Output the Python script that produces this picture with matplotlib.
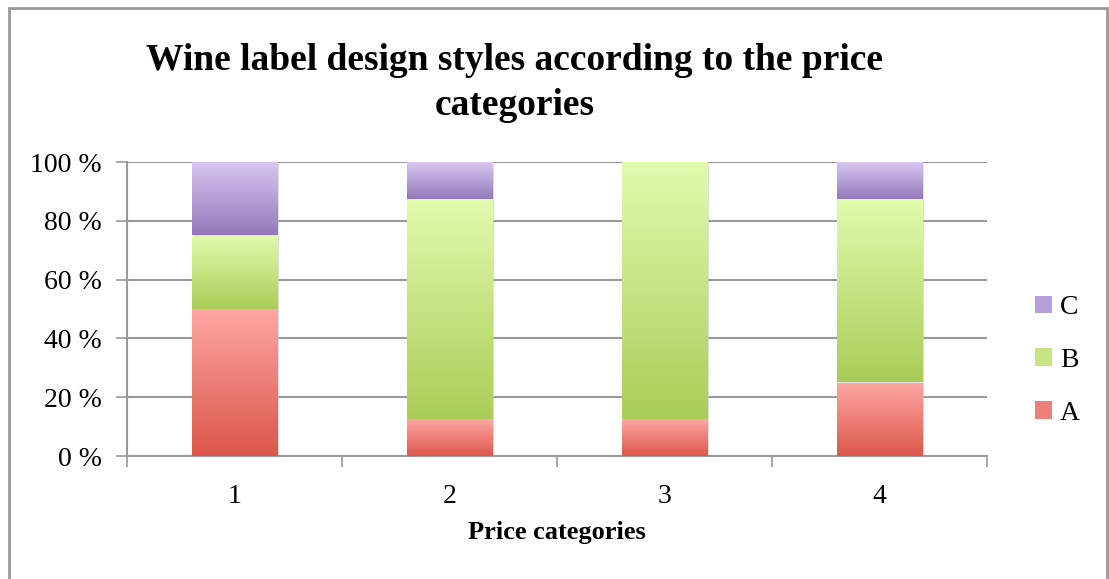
import numpy as np
import matplotlib.pyplot as plt
from matplotlib.colors import LinearSegmentedColormap
from matplotlib.patches import Rectangle, Patch

categories = ['1', '2', '3', '4']
series_a = [50.0, 12.5, 12.5, 25.0]
series_b = [25.0, 75.0, 87.5, 62.5]
series_c = [25.0, 12.5, 0.0, 12.5]
y_ticks = [0, 20, 40, 60, 80, 100]
y_tick_labels = ['0 %', '20 %', '40 %', '60 %', '80 %', '100 %']

# (top colour, bottom colour) for each series gradient
grads = {
    'A': ('#fda7a3', '#dc574b'),
    'B': ('#e2fbad', '#a9cd58'),
    'C': ('#d8c8f2', '#9378ba'),
}

plt.rcParams['font.family'] = ['Liberation Serif', 'DejaVu Serif']

fig = plt.figure(figsize=(11.09, 5.79), dpi=100)
fig.patches.append(Rectangle((9 / 1109, -0.1), 1098 / 1109, 1.1 - 8 / 579,
                             transform=fig.transFigure, fill=False,
                             edgecolor='#9a9a9a', linewidth=2.0))
ax = fig.add_axes([127 / 1109, 1 - 456 / 579, 860 / 1109, 294 / 579])

x = np.arange(1, len(categories) + 1)
width = 0.40
bottom = np.zeros(len(categories))
for name, vals in [('A', series_a), ('B', series_b), ('C', series_c)]:
    bars = ax.bar(x, vals, width, bottom=bottom, color='none', linewidth=0, zorder=3)
    cmap = LinearSegmentedColormap.from_list(name, [grads[name][1], grads[name][0]])
    for b in bars:
        if b.get_height() <= 0:
            continue
        x0, y0 = b.get_x(), b.get_y()
        # soft shadow
        sh = Rectangle((x0 + 0.008, y0 - 0.8), b.get_width(), b.get_height(),
                       facecolor='#c8c8c8', edgecolor='none', zorder=2, alpha=0.6)
        ax.add_patch(sh)
        grad = np.linspace(0, 1, 256).reshape(-1, 1)
        im = ax.imshow(grad, cmap=cmap, origin='lower', aspect='auto',
                       extent=(x0, x0 + b.get_width(), y0, y0 + b.get_height()),
                       zorder=3)
        im.set_clip_path(b)
    bottom += np.array(vals)

ax.set_xlim(0.5, 4.5)
ax.set_ylim(0, 100)
ax.set_yticks(y_ticks)
ax.set_yticklabels(y_tick_labels, fontsize=20)
ax.set_xticks(x)
ax.set_xticklabels(categories, fontsize=20)
ax.set_xticks(np.arange(0.5, 4.6, 1.0), minor=True)
ax.tick_params(axis='x', which='major', length=0, pad=20)
ax.tick_params(axis='x', which='minor', length=8, width=1.2, color='#9a9a9a', direction='out')
ax.tick_params(axis='y', length=8, width=1.2, color='#9a9a9a', direction='out', pad=10)

ax.grid(axis='y', color='#9a9a9a', linewidth=1.5, zorder=1)
ax.set_axisbelow(True)
for s in ['top', 'right']:
    ax.spines[s].set_visible(False)
for s in ['left', 'bottom']:
    ax.spines[s].set_color('#9a9a9a')
    ax.spines[s].set_linewidth(1.5)

ax.set_xlabel('Price categories', fontsize=19, fontweight='bold', labelpad=9)
fig.text(515 / 1109, 1 - 83 / 579,
         'Wine label design styles according to the price\ncategories',
         ha='center', va='center', fontsize=27, fontweight='bold', linespacing=1.35)

handles = [Patch(facecolor='#b6a0d8', edgecolor='none'),
           Patch(facecolor='#c8e584', edgecolor='none'),
           Patch(facecolor='#ee8079', edgecolor='none')]
ax.legend(handles, ['C', 'B', 'A'], loc='center left', bbox_to_anchor=(1.056, 0.325),
          frameon=False, fontsize=20, handlelength=0.6, handleheight=0.6,
          handletextpad=0.3, labelspacing=1.0, borderpad=0, borderaxespad=0)

fig.savefig('out.png', dpi=100)
